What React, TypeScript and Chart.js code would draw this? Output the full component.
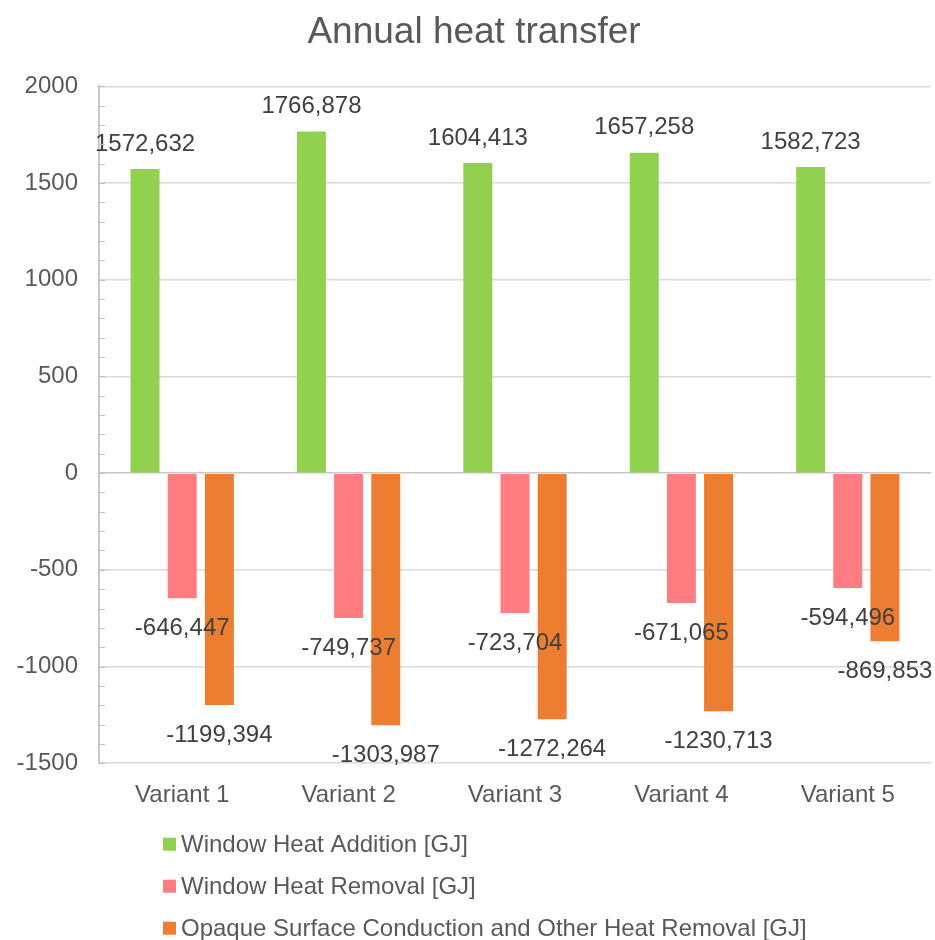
import React, { useEffect, useRef } from "react";
import { Chart, registerables } from "chart.js";

Chart.register(...registerables);

const categories = ["Variant 1", "Variant 2", "Variant 3", "Variant 4", "Variant 5"];
const windowHeatAddition = [1572.632, 1766.878, 1604.413, 1657.258, 1582.723];
const windowHeatRemoval = [-646.447, -749.737, -723.704, -671.065, -594.496];
const opaqueRemoval = [-1199.394, -1303.987, -1272.264, -1230.713, -869.853];
const seriesNames = [
  "Window Heat Addition [GJ]",
  "Window Heat Removal [GJ]",
  "Opaque Surface Conduction and Other Heat Removal [GJ]",
];
const seriesColors = ["#92D050", "#FF7C80", "#ED7D31"];
const yMin = -1500;
const yMax = 2000;
const yStep = 500;
const yMinorStep = 100;

const FONT = "'Liberation Sans', Arial, sans-serif";

const labelsPlugin = {
  id: "barLabels",
  afterDatasetsDraw(chart: any) {
    const ctx = chart.ctx;
    ctx.save();
    ctx.font = `24px ${FONT}`;
    ctx.fillStyle = "#404040";
    ctx.textAlign = "center";
    ctx.textBaseline = "middle";
    chart.data.datasets.forEach((ds: any, i: number) => {
      const meta = chart.getDatasetMeta(i);
      meta.data.forEach((bar: any, j: number) => {
        const v = ds.data[j];
        const txt = v.toFixed(3).replace(".", ",");
        const y = v >= 0 ? bar.y - 25 : bar.y + 30;
        ctx.fillText(txt, bar.x, y);
      });
    });
    ctx.restore();
  },
};

const minorTicksPlugin = {
  id: "minorTicks",
  afterDraw(chart: any) {
    const ctx = chart.ctx;
    const y = chart.scales.y;
    const left = chart.chartArea.left;
    ctx.save();
    ctx.strokeStyle = "#bfbfbf";
    ctx.lineWidth = 1;
    for (let v = yMin; v <= yMax; v += yMinorStep) {
      const py = Math.round(y.getPixelForValue(v)) + 0.5;
      ctx.beginPath();
      ctx.moveTo(left, py);
      ctx.lineTo(left + 6, py);
      ctx.stroke();
    }
    ctx.restore();
  },
};

const legendPlugin = {
  id: "bottomLegend",
  afterDraw(chart: any) {
    const ctx = chart.ctx;
    const { left, bottom } = chart.chartArea;
    ctx.save();
    ctx.font = `24px ${FONT}`;
    ctx.textAlign = "left";
    ctx.textBaseline = "middle";
    chart.data.datasets.forEach((ds: any, i: number) => {
      const cy = bottom + 81 + i * 42;
      const bx = left + 64;
      ctx.fillStyle = ds.backgroundColor;
      ctx.fillRect(bx, cy - 6.5, 13, 13);
      ctx.fillStyle = "#595959";
      ctx.fillText(ds.label, bx + 18, cy + 1);
    });
    ctx.restore();
  },
};

export default function App() {
  const ref = useRef<HTMLCanvasElement>(null);
  useEffect(() => {
    document.body.style.margin = "0";
    const chart = new Chart(ref.current!, {
      type: "bar",
      data: {
        labels: categories,
        datasets: [windowHeatAddition, windowHeatRemoval, opaqueRemoval].map((d, i) => ({
          label: seriesNames[i],
          data: d,
          backgroundColor: seriesColors[i],
          borderWidth: 0,
          categoryPercentage: 0.67,
          barPercentage: 0.78,
        })),
      },
      options: {
        animation: false,
        responsive: true,
        maintainAspectRatio: false,
        layout: { padding: { left: 17, right: 4, top: 0, bottom: 112 } },
        plugins: {
          legend: { display: false },
          tooltip: { enabled: false },
          title: {
            display: true,
            text: "Annual heat transfer",
            color: "#595959",
            font: { family: FONT, size: 37, weight: "normal" },
            padding: { top: 11, bottom: 31 },
          },
        },
        scales: {
          x: {
            grid: { display: false, drawTicks: false },
            border: { display: false },
            ticks: {
              color: "#595959",
              font: { family: FONT, size: 24 },
              padding: 18,
              maxRotation: 0,
            },
          },
          y: {
            min: yMin,
            max: yMax,
            afterFit: (scale: any) => {
              scale.width = 82;
            },
            ticks: {
              stepSize: yStep,
              color: "#595959",
              font: { family: FONT, size: 24 },
              padding: 21,
              callback: (v: any) => String(v),
            },
            grid: {
              drawTicks: false,
              color: (c: any) => (c.tick && c.tick.value === 0 ? "#c8c8c8" : "#d9d9d9"),
              lineWidth: 1.5,
            },
            border: { display: true, color: "#c8c8c8", width: 2 },
          },
        },
      },
      plugins: [labelsPlugin, minorTicksPlugin, legendPlugin],
    });
    return () => chart.destroy();
  }, []);
  return (
    <div style={{ width: 935, height: 940, position: "relative" }}>
      <canvas ref={ref} />
    </div>
  );
}
